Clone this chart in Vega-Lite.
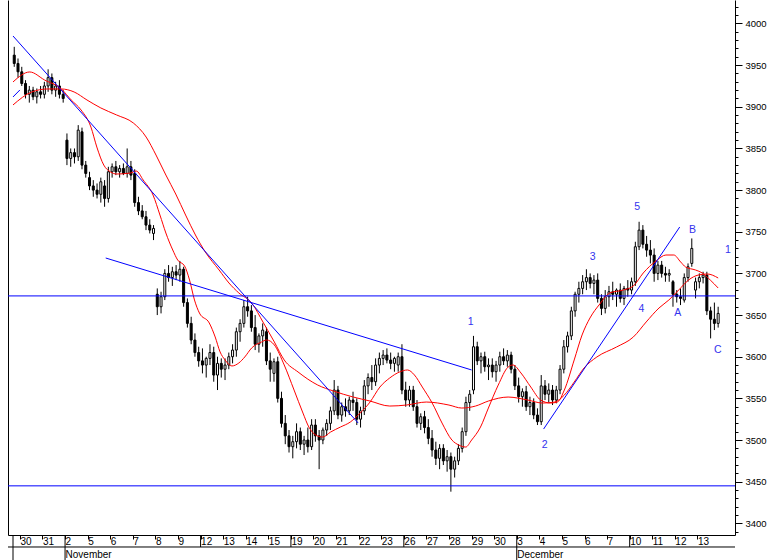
{
  "$schema": "https://vega.github.io/schema/vega-lite/v6.json",
  "autosize": "none",
  "width": 727,
  "height": 535,
  "padding": {"left": 8, "top": 0, "right": 33, "bottom": 25},
  "config": {"view": {"stroke": null}, "font": "Liberation Sans"},
  "datasets": {
    "bars": [
      {"i":-2,"o":3962,"h":3972,"l":3948,"c":3952},{"i":-1,"o":3952,"h":3958,"l":3935,"c":3942},
      {"i":0,"o":3942,"h":3948,"l":3925,"c":3928},{"i":1,"o":3928,"h":3932,"l":3910,"c":3915},{"i":2,"o":3915,"h":3925,"l":3905,"c":3920},{"i":3,"o":3920,"h":3924,"l":3908,"c":3912},{"i":4,"o":3912,"h":3922,"l":3904,"c":3918},{"i":5,"o":3918,"h":3925,"l":3910,"c":3915},
      {"i":6,"o":3915,"h":3930,"l":3910,"c":3925},{"i":7,"o":3925,"h":3945,"l":3918,"c":3935},{"i":8,"o":3935,"h":3940,"l":3915,"c":3920},{"i":9,"o":3920,"h":3930,"l":3912,"c":3925},{"i":10,"o":3925,"h":3932,"l":3910,"c":3915},{"i":11,"o":3915,"h":3920,"l":3905,"c":3910},
      {"i":12,"o":3860,"h":3868,"l":3830,"c":3838},{"i":13,"o":3838,"h":3850,"l":3828,"c":3845},{"i":14,"o":3845,"h":3850,"l":3832,"c":3840},{"i":15,"o":3840,"h":3878,"l":3835,"c":3872},{"i":16,"o":3870,"h":3875,"l":3825,"c":3830},{"i":17,"o":3830,"h":3835,"l":3815,"c":3820},
      {"i":18,"o":3815,"h":3822,"l":3800,"c":3805},{"i":19,"o":3805,"h":3812,"l":3792,"c":3800},{"i":20,"o":3800,"h":3808,"l":3790,"c":3795},{"i":21,"o":3795,"h":3815,"l":3785,"c":3810},{"i":22,"o":3805,"h":3812,"l":3780,"c":3790},{"i":23,"o":3790,"h":3828,"l":3785,"c":3822},
      {"i":24,"o":3822,"h":3832,"l":3815,"c":3828},{"i":25,"o":3828,"h":3835,"l":3818,"c":3822},{"i":26,"o":3822,"h":3830,"l":3815,"c":3826},{"i":27,"o":3826,"h":3832,"l":3818,"c":3820},{"i":28,"o":3820,"h":3850,"l":3815,"c":3828},{"i":29,"o":3828,"h":3835,"l":3812,"c":3818},
      {"i":30,"o":3820,"h":3825,"l":3780,"c":3785},{"i":31,"o":3785,"h":3792,"l":3770,"c":3775},{"i":32,"o":3775,"h":3782,"l":3765,"c":3768},{"i":33,"o":3768,"h":3775,"l":3752,"c":3758},{"i":34,"o":3758,"h":3765,"l":3748,"c":3752},{"i":35,"o":3748,"h":3758,"l":3740,"c":3754},
      {"i":36,"o":3675,"h":3682,"l":3650,"c":3660},{"i":37,"o":3660,"h":3678,"l":3652,"c":3672},{"i":38,"o":3672,"h":3705,"l":3668,"c":3700},{"i":39,"o":3700,"h":3710,"l":3690,"c":3695},{"i":40,"o":3695,"h":3708,"l":3685,"c":3702},{"i":41,"o":3702,"h":3710,"l":3692,"c":3698},
      {"i":42,"o":3698,"h":3715,"l":3690,"c":3705},{"i":43,"o":3705,"h":3708,"l":3660,"c":3665},{"i":44,"o":3665,"h":3670,"l":3635,"c":3640},{"i":45,"o":3640,"h":3648,"l":3615,"c":3620},{"i":46,"o":3620,"h":3628,"l":3600,"c":3605},{"i":47,"o":3605,"h":3612,"l":3588,"c":3595},
      {"i":48,"o":3595,"h":3610,"l":3580,"c":3590},{"i":49,"o":3590,"h":3600,"l":3575,"c":3598},{"i":50,"o":3598,"h":3615,"l":3590,"c":3605},{"i":51,"o":3605,"h":3612,"l":3570,"c":3578},{"i":52,"o":3578,"h":3600,"l":3560,"c":3592},{"i":53,"o":3592,"h":3598,"l":3575,"c":3585},
      {"i":54,"o":3585,"h":3598,"l":3572,"c":3590},{"i":55,"o":3590,"h":3605,"l":3585,"c":3600},{"i":56,"o":3600,"h":3615,"l":3592,"c":3608},{"i":57,"o":3608,"h":3635,"l":3600,"c":3630},{"i":58,"o":3630,"h":3645,"l":3618,"c":3640},{"i":59,"o":3640,"h":3668,"l":3635,"c":3660},
      {"i":60,"o":3660,"h":3672,"l":3648,"c":3655},{"i":61,"o":3655,"h":3662,"l":3630,"c":3635},{"i":62,"o":3635,"h":3650,"l":3608,"c":3615},{"i":63,"o":3615,"h":3628,"l":3605,"c":3625},{"i":64,"o":3625,"h":3640,"l":3612,"c":3632},{"i":65,"o":3630,"h":3635,"l":3590,"c":3595},
      {"i":66,"o":3595,"h":3605,"l":3570,"c":3585},{"i":67,"o":3580,"h":3598,"l":3570,"c":3594},{"i":68,"o":3594,"h":3600,"l":3545,"c":3550},{"i":69,"o":3550,"h":3558,"l":3515,"c":3520},{"i":70,"o":3520,"h":3530,"l":3495,"c":3505},{"i":71,"o":3505,"h":3512,"l":3485,"c":3492},
      {"i":72,"o":3492,"h":3505,"l":3478,"c":3498},{"i":73,"o":3498,"h":3520,"l":3490,"c":3510},{"i":74,"o":3510,"h":3515,"l":3488,"c":3495},{"i":75,"o":3495,"h":3505,"l":3482,"c":3500},{"i":76,"o":3500,"h":3515,"l":3485,"c":3492},{"i":77,"o":3492,"h":3525,"l":3488,"c":3518},
      {"i":78,"o":3518,"h":3525,"l":3498,"c":3505},{"i":79,"o":3505,"h":3512,"l":3465,"c":3500},{"i":80,"o":3500,"h":3515,"l":3495,"c":3512},{"i":81,"o":3512,"h":3525,"l":3505,"c":3520},{"i":82,"o":3520,"h":3540,"l":3512,"c":3535},{"i":83,"o":3535,"h":3572,"l":3530,"c":3560},
      {"i":84,"o":3560,"h":3565,"l":3525,"c":3530},{"i":85,"o":3530,"h":3545,"l":3522,"c":3540},{"i":86,"o":3540,"h":3550,"l":3528,"c":3535},{"i":87,"o":3535,"h":3552,"l":3530,"c":3548},{"i":88,"o":3548,"h":3558,"l":3535,"c":3545},{"i":89,"o":3545,"h":3550,"l":3518,"c":3525},
      {"i":90,"o":3525,"h":3540,"l":3515,"c":3535},{"i":91,"o":3535,"h":3572,"l":3530,"c":3565},{"i":92,"o":3565,"h":3580,"l":3555,"c":3575},{"i":93,"o":3575,"h":3590,"l":3560,"c":3570},{"i":94,"o":3570,"h":3598,"l":3565,"c":3590},{"i":95,"o":3590,"h":3605,"l":3580,"c":3598},
      {"i":96,"o":3598,"h":3608,"l":3590,"c":3602},{"i":97,"o":3602,"h":3610,"l":3592,"c":3596},{"i":98,"o":3596,"h":3605,"l":3585,"c":3592},{"i":99,"o":3592,"h":3600,"l":3582,"c":3598},{"i":100,"o":3590,"h":3605,"l":3582,"c":3600},{"i":101,"o":3600,"h":3615,"l":3555,"c":3560},
      {"i":102,"o":3560,"h":3570,"l":3540,"c":3548},{"i":103,"o":3548,"h":3565,"l":3540,"c":3560},{"i":104,"o":3560,"h":3565,"l":3535,"c":3540},{"i":105,"o":3540,"h":3548,"l":3515,"c":3520},{"i":106,"o":3520,"h":3532,"l":3512,"c":3528},{"i":107,"o":3528,"h":3535,"l":3508,"c":3515},
      {"i":108,"o":3515,"h":3525,"l":3495,"c":3502},{"i":109,"o":3502,"h":3512,"l":3480,"c":3488},{"i":110,"o":3488,"h":3498,"l":3470,"c":3478},{"i":111,"o":3478,"h":3495,"l":3465,"c":3490},{"i":112,"o":3490,"h":3495,"l":3470,"c":3475},{"i":113,"o":3475,"h":3488,"l":3462,"c":3480},
      {"i":114,"o":3480,"h":3485,"l":3438,"c":3465},{"i":115,"o":3465,"h":3480,"l":3455,"c":3475},{"i":116,"o":3475,"h":3495,"l":3470,"c":3490},{"i":117,"o":3490,"h":3515,"l":3485,"c":3510},{"i":118,"o":3510,"h":3552,"l":3505,"c":3545},{"i":119,"o":3545,"h":3560,"l":3535,"c":3555},
      {"i":120,"o":3560,"h":3625,"l":3555,"c":3612},{"i":121,"o":3612,"h":3618,"l":3590,"c":3595},{"i":122,"o":3595,"h":3605,"l":3580,"c":3600},{"i":123,"o":3600,"h":3606,"l":3582,"c":3588},{"i":124,"o":3588,"h":3598,"l":3572,"c":3590},{"i":125,"o":3590,"h":3598,"l":3575,"c":3582},
      {"i":126,"o":3582,"h":3595,"l":3570,"c":3590},{"i":127,"o":3590,"h":3606,"l":3582,"c":3600},{"i":128,"o":3600,"h":3610,"l":3590,"c":3595},{"i":129,"o":3595,"h":3608,"l":3588,"c":3602},{"i":130,"o":3602,"h":3606,"l":3580,"c":3585},{"i":131,"o":3585,"h":3590,"l":3560,"c":3565},
      {"i":132,"o":3565,"h":3575,"l":3545,"c":3552},{"i":133,"o":3552,"h":3562,"l":3540,"c":3558},{"i":134,"o":3558,"h":3565,"l":3535,"c":3540},{"i":135,"o":3540,"h":3552,"l":3530,"c":3545},{"i":136,"o":3545,"h":3550,"l":3525,"c":3530},{"i":137,"o":3530,"h":3538,"l":3518,"c":3522},
      {"i":138,"o":3522,"h":3578,"l":3518,"c":3565},{"i":139,"o":3565,"h":3572,"l":3548,"c":3555},{"i":140,"o":3555,"h":3568,"l":3545,"c":3560},{"i":141,"o":3560,"h":3566,"l":3542,"c":3548},{"i":142,"o":3548,"h":3565,"l":3544,"c":3560},{"i":143,"o":3560,"h":3590,"l":3555,"c":3585},
      {"i":144,"o":3585,"h":3620,"l":3580,"c":3612},{"i":145,"o":3612,"h":3630,"l":3605,"c":3625},{"i":146,"o":3625,"h":3660,"l":3620,"c":3655},{"i":147,"o":3655,"h":3678,"l":3648,"c":3675},{"i":148,"o":3675,"h":3690,"l":3665,"c":3682},{"i":149,"o":3682,"h":3698,"l":3675,"c":3690},
      {"i":150,"o":3690,"h":3705,"l":3680,"c":3695},{"i":151,"o":3695,"h":3700,"l":3682,"c":3688},{"i":152,"o":3688,"h":3698,"l":3675,"c":3692},{"i":153,"o":3692,"h":3700,"l":3665,"c":3670},{"i":154,"o":3670,"h":3675,"l":3650,"c":3658},{"i":155,"o":3658,"h":3680,"l":3652,"c":3672},
      {"i":156,"o":3672,"h":3685,"l":3660,"c":3678},{"i":157,"o":3678,"h":3690,"l":3668,"c":3675},{"i":158,"o":3675,"h":3682,"l":3660,"c":3680},{"i":159,"o":3680,"h":3688,"l":3665,"c":3670},{"i":160,"o":3670,"h":3685,"l":3662,"c":3682},{"i":161,"o":3682,"h":3692,"l":3672,"c":3680},
      {"i":162,"o":3680,"h":3695,"l":3675,"c":3690},{"i":163,"o":3690,"h":3738,"l":3685,"c":3732},{"i":164,"o":3732,"h":3762,"l":3728,"c":3752},{"i":165,"o":3752,"h":3758,"l":3730,"c":3735},{"i":166,"o":3735,"h":3745,"l":3720,"c":3728},{"i":167,"o":3728,"h":3740,"l":3712,"c":3722},
      {"i":168,"o":3722,"h":3730,"l":3690,"c":3700},{"i":169,"o":3700,"h":3715,"l":3692,"c":3710},{"i":170,"o":3710,"h":3715,"l":3695,"c":3700},{"i":171,"o":3700,"h":3708,"l":3690,"c":3698},{"i":172,"o":3698,"h":3705,"l":3690,"c":3700},{"i":173,"o":3690,"h":3692,"l":3660,"c":3675},
      {"i":174,"o":3675,"h":3680,"l":3665,"c":3672},{"i":175,"o":3672,"h":3682,"l":3662,"c":3670},{"i":176,"o":3668,"h":3700,"l":3665,"c":3695},{"i":177,"o":3695,"h":3712,"l":3690,"c":3708},{"i":178,"o":3712,"h":3742,"l":3708,"c":3730},{"i":179,"o":3680,"h":3695,"l":3670,"c":3690},
      {"i":180,"o":3690,"h":3700,"l":3682,"c":3695},{"i":181,"o":3695,"h":3702,"l":3688,"c":3698},{"i":182,"o":3698,"h":3702,"l":3650,"c":3655},{"i":183,"o":3655,"h":3660,"l":3622,"c":3645},{"i":184,"o":3645,"h":3665,"l":3632,"c":3640},{"i":185,"o":3640,"h":3660,"l":3635,"c":3652}
    ],
    "ma": [
      {"s":"f","t":-2.33,"p":3929.8},{"s":"f","t":2.12,"p":3941.8},{"s":"f","t":6.05,"p":3932.2},{"s":"f","t":10.51,"p":3921.4},{"s":"f","t":13.13,"p":3908.2},{"s":"f","t":15.75,"p":3896.2},{"s":"f","t":18.37,"p":3875.7},{"s":"f","t":19.94,"p":3851.7},{"s":"f","t":21.78,"p":3830.1},{"s":"f","t":23.61,"p":3821.7},{"s":"f","t":25.19,"p":3819.3},{"s":"f","t":28.85,"p":3820.5},{"s":"f","t":30.42,"p":3822.9},{"s":"f","t":32.26,"p":3812.1},{"s":"f","t":34.87,"p":3794.1},{"s":"f","t":36.71,"p":3770.1},{"s":"f","t":38.28,"p":3748.5},{"s":"f","t":40.11,"p":3728.1},{"s":"f","t":41.42,"p":3716.1},{"s":"f","t":43.26,"p":3708.9},{"s":"f","t":44.57,"p":3692.1},{"s":"f","t":45.88,"p":3668.1},{"s":"f","t":47.19,"p":3652.5},{"s":"f","t":49.81,"p":3640.5},{"s":"f","t":51.38,"p":3623.7},{"s":"f","t":52.69,"p":3605.7},{"s":"f","t":54.0,"p":3596.1},{"s":"f","t":55.83,"p":3588.9},{"s":"f","t":57.67,"p":3592.5},{"s":"f","t":59.24,"p":3599.7},{"s":"f","t":61.08,"p":3610.5},{"s":"f","t":63.7,"p":3617.7},{"s":"f","t":65.01,"p":3620.1},{"s":"f","t":67.1,"p":3614.1},{"s":"f","t":69.72,"p":3590.1},{"s":"f","t":72.34,"p":3560.0},{"s":"f","t":74.7,"p":3532.4},{"s":"f","t":76.27,"p":3515.6},{"s":"f","t":78.11,"p":3506.0},{"s":"f","t":79.94,"p":3503.6},{"s":"f","t":82.04,"p":3509.6},{"s":"f","t":84.66,"p":3515.6},{"s":"f","t":87.28,"p":3521.6},{"s":"f","t":89.9,"p":3532.4},{"s":"f","t":92.52,"p":3545.6},{"s":"f","t":95.14,"p":3563.6},{"s":"f","t":97.76,"p":3574.5},{"s":"f","t":100.38,"p":3581.7},{"s":"f","t":102.48,"p":3584.1},{"s":"f","t":104.31,"p":3578.1},{"s":"f","t":106.41,"p":3563.6},{"s":"f","t":109.03,"p":3544.4},{"s":"f","t":111.65,"p":3520.4},{"s":"f","t":114.27,"p":3500.0},{"s":"f","t":116.1,"p":3494.0},{"s":"f","t":117.94,"p":3491.6},{"s":"f","t":119.51,"p":3500.0},{"s":"f","t":121.87,"p":3515.6},{"s":"f","t":123.96,"p":3538.4},{"s":"f","t":126.58,"p":3566.0},{"s":"f","t":129.2,"p":3587.6},{"s":"f","t":130.51,"p":3590.1},{"s":"f","t":132.61,"p":3580.5},{"s":"f","t":135.23,"p":3563.6},{"s":"f","t":137.85,"p":3548.0},{"s":"f","t":140.47,"p":3544.4},{"s":"f","t":142.31,"p":3545.6},{"s":"f","t":144.14,"p":3560.0},{"s":"f","t":146.76,"p":3596.1},{"s":"f","t":148.85,"p":3626.1},{"s":"f","t":150.95,"p":3646.5},{"s":"f","t":153.57,"p":3663.3},{"s":"f","t":156.19,"p":3676.5},{"s":"f","t":159.86,"p":3680.1},{"s":"f","t":162.48,"p":3684.9},{"s":"f","t":165.1,"p":3700.5},{"s":"f","t":168.5,"p":3714.9},{"s":"f","t":171.12,"p":3722.1},{"s":"f","t":173.22,"p":3722.1},{"s":"f","t":175.05,"p":3713.7},{"s":"f","t":176.36,"p":3707.7},{"s":"f","t":178.98,"p":3704.1},{"s":"f","t":180.8,"p":3700.5},{"s":"f","t":182.9,"p":3692.1},{"s":"f","t":185.0,"p":3682.5},
      {"s":"s","t":-2.33,"p":3902.2},{"s":"s","t":2.65,"p":3917.8},{"s":"s","t":6.84,"p":3921.4},{"s":"s","t":10.51,"p":3921.4},{"s":"s","t":13.91,"p":3917.8},{"s":"s","t":17.32,"p":3908.2},{"s":"s","t":21.0,"p":3898.6},{"s":"s","t":25.19,"p":3890.2},{"s":"s","t":29.63,"p":3880.6},{"s":"s","t":33.04,"p":3863.7},{"s":"s","t":35.66,"p":3842.1},{"s":"s","t":38.28,"p":3818.1},{"s":"s","t":40.9,"p":3795.3},{"s":"s","t":43.52,"p":3770.1},{"s":"s","t":46.14,"p":3746.1},{"s":"s","t":48.76,"p":3725.7},{"s":"s","t":52.42,"p":3704.1},{"s":"s","t":55.04,"p":3688.5},{"s":"s","t":57.67,"p":3676.5},{"s":"s","t":61.08,"p":3664.5},{"s":"s","t":64.22,"p":3640.5},{"s":"s","t":67.1,"p":3617.7},{"s":"s","t":69.72,"p":3596.1},{"s":"s","t":73.39,"p":3581.7},{"s":"s","t":78.63,"p":3566.0},{"s":"s","t":82.82,"p":3558.8},{"s":"s","t":88.06,"p":3551.6},{"s":"s","t":92.52,"p":3546.8},{"s":"s","t":97.76,"p":3540.8},{"s":"s","t":102.21,"p":3542.0},{"s":"s","t":107.45,"p":3545.6},{"s":"s","t":113.48,"p":3542.0},{"s":"s","t":116.88,"p":3538.4},{"s":"s","t":120.55,"p":3540.8},{"s":"s","t":123.96,"p":3546.8},{"s":"s","t":129.2,"p":3551.6},{"s":"s","t":134.44,"p":3548.0},{"s":"s","t":138.37,"p":3544.4},{"s":"s","t":141.51,"p":3545.6},{"s":"s","t":144.14,"p":3554.0},{"s":"s","t":146.76,"p":3569.6},{"s":"s","t":149.38,"p":3586.5},{"s":"s","t":152.78,"p":3599.7},{"s":"s","t":158.02,"p":3611.7},{"s":"s","t":162.48,"p":3623.7},{"s":"s","t":165.88,"p":3641.7},{"s":"s","t":169.29,"p":3658.5},{"s":"s","t":171.91,"p":3668.1},{"s":"s","t":174.53,"p":3680.1},{"s":"s","t":177.14,"p":3692.1},{"s":"s","t":179.76,"p":3698.1},{"s":"s","t":182.12,"p":3699.3},{"s":"s","t":185.01,"p":3694.5}
    ],
    "trend": [
      {"t1":-2.33,"p1":3985.0,"t2":89.37,"p2":3520.4},
      {"t1":22.3,"p1":3718.5,"t2":119.5,"p2":3584.1},
      {"t1":138.63,"p1":3513.2,"t2":174.79,"p2":3755.7},
      {"t1":-2.33,"p1":3911.8,"t2":-0.5,"p2":3920.2}
    ],
    "levels": [{"v":3673},{"v":3445}],
    "seps": [
      {"t":-2.33,"a":3386,"b":3355},
      {"t":11.5,"a":3386,"b":3355},
      {"t":47.5,"a":3386,"b":3371.6},
      {"t":71.5,"a":3386,"b":3371.6},
      {"t":101.5,"a":3386,"b":3371.6},
      {"t":131.5,"a":3386,"b":3355},
      {"t":161.5,"a":3386,"b":3371.6}
    ],
    "notes": [
      {"t":119.24,"p":3641.7,"txt":"1"},
      {"t":138.9,"p":3494.0,"txt":"2"},
      {"t":151.7,"p":3719.7,"txt":"3"},
      {"t":164.6,"p":3657.3,"txt":"4"},
      {"t":163.5,"p":3779.7,"txt":"5"},
      {"t":174.3,"p":3652.5,"txt":"A"},
      {"t":178.2,"p":3752.1,"txt":"B"},
      {"t":184.9,"p":3608.1,"txt":"C"},
      {"t":187.6,"p":3728.1,"txt":"1"}
    ]
  },
  "resolve": {"axis": {"x": "independent", "y": "independent"}},
  "layer": [
    {
      "data": {"name": "bars"},
      "mark": {"type": "rule", "color": "#000000", "strokeWidth": 1, "clip": true},
      "encoding": {
        "x": {"field": "i", "type": "quantitative",
          "scale": {"domain": [-2.33, 188.15], "nice": false, "zero": false},
          "axis": {"orient": "bottom", "title": null, "grid": false,
            "values": [-0.5,5.5,11.5,17.5,23.5,29.5,35.5,41.5,47.5,53.5,59.5,65.5,71.5,77.5,83.5,89.5,95.5,101.5,107.5,113.5,119.5,125.5,131.5,137.5,143.5,149.5,155.5,161.5,167.5,173.5,179.5],
            "labelExpr": "['30','31',['2','November'],'5','6','7','8','9','12','13','14','15','19','20','21','22','23','26','27','28','29','30',['3','December'],'4','5','6','7','10','11','12','13'][round((datum.value+0.5)/6)]",
            "labelAlign": "left", "labelBaseline": "top", "labelDx": 3, "labelPadding": -3,
            "labelFontSize": 10, "labelColor": "#000000", "labelLineHeight": 13, "labelOverlap": false, "labelFlush": false,
            "tickSize": 4, "tickColor": "#000000", "domainColor": "#000000"}},
        "y": {"field": "l", "type": "quantitative",
          "scale": {"domain": [3386, 4028.2], "nice": false, "zero": false},
          "axis": {"orient": "right", "title": null, "grid": false,
            "values": [3390,3400,3410,3420,3430,3440,3450,3460,3470,3480,3490,3500,3510,3520,3530,3540,3550,3560,3570,3580,3590,3600,3610,3620,3630,3640,3650,3660,3670,3680,3690,3700,3710,3720,3730,3740,3750,3760,3770,3780,3790,3800,3810,3820,3830,3840,3850,3860,3870,3880,3890,3900,3910,3920,3930,3940,3950,3960,3970,3980,3990,4000,4010,4020],
            "labelExpr": "datum.value % 50 === 0 ? '' + datum.value : ''",
            "labelOverlap": false, "labelFontSize": 9.5, "labelColor": "#000000", "labelPadding": 3,
            "tickSize": {"condition": {"test": "datum.value % 50 === 0", "value": 7}, "value": 3},
            "tickColor": "#000000", "domainColor": "#000000"}},
        "y2": {"field": "h"}
      }
    },
    {
      "data": {"name": "bars"},
      "mark": {"type": "bar", "size": 2, "stroke": "#000000", "strokeWidth": 1, "clip": true},
      "encoding": {
        "x": {"field": "i", "type": "quantitative", "axis": null},
        "y": {"field": "o", "type": "quantitative", "axis": null},
        "y2": {"field": "c"},
        "fill": {"condition": {"test": "datum.c > datum.o", "value": "#ffffff"}, "value": "#000000"}
      }
    },
    {
      "data": {"name": "ma"},
      "mark": {"type": "line", "color": "#ff0000", "strokeWidth": 1, "interpolate": "monotone", "clip": true},
      "encoding": {
        "x": {"field": "t", "type": "quantitative", "axis": null},
        "y": {"field": "p", "type": "quantitative", "axis": null},
        "detail": {"field": "s"}
      }
    },
    {
      "data": {"name": "levels"},
      "mark": {"type": "rule", "color": "#0000ff", "strokeWidth": 1},
      "encoding": {
        "y": {"field": "v", "type": "quantitative",
          "axis": {"orient": "left", "title": null, "labels": false, "ticks": false, "grid": false, "domainColor": "#000000"}}
      }
    },
    {
      "data": {"name": "trend"},
      "mark": {"type": "rule", "color": "#0000ff", "strokeWidth": 1, "clip": true},
      "encoding": {
        "x": {"field": "t1", "type": "quantitative", "axis": null},
        "y": {"field": "p1", "type": "quantitative", "axis": null},
        "x2": {"field": "t2"},
        "y2": {"field": "p2"}
      }
    },
    {
      "data": {"name": "seps"},
      "mark": {"type": "rule", "color": "#000000", "strokeWidth": 1},
      "encoding": {
        "x": {"field": "t", "type": "quantitative", "axis": null},
        "y": {"field": "a", "type": "quantitative", "axis": null},
        "y2": {"field": "b"}
      }
    },
    {
      "data": {"values": [{}]},
      "mark": {"type": "rule", "color": "#000000", "strokeWidth": 1},
      "encoding": {
        "y": {"datum": 3371.6, "type": "quantitative", "axis": null}
      }
    },
    {
      "data": {"name": "notes"},
      "mark": {"type": "text", "color": "#3333ee", "fontSize": 10.5, "align": "center", "baseline": "middle"},
      "encoding": {
        "x": {"field": "t", "type": "quantitative", "axis": null},
        "y": {"field": "p", "type": "quantitative", "axis": null},
        "text": {"field": "txt"}
      }
    }
  ]
}
